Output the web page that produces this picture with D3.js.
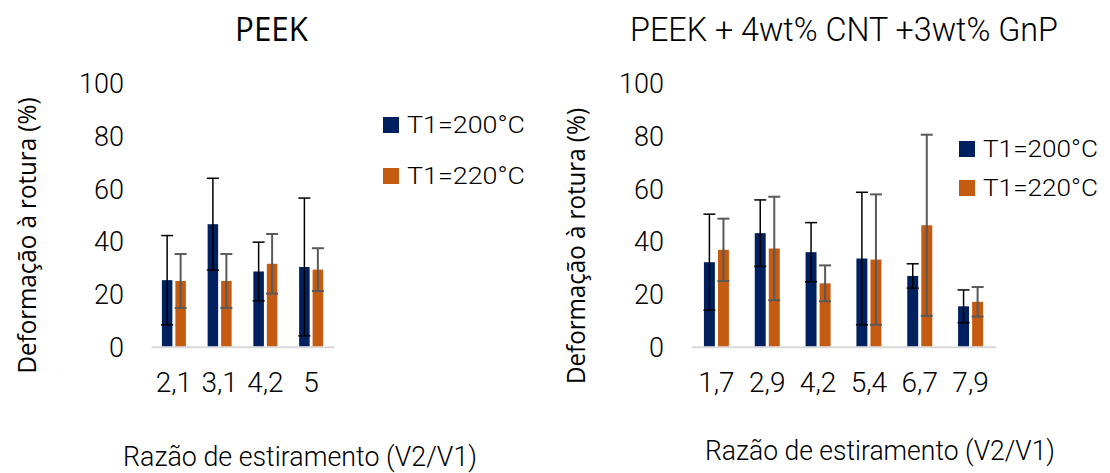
<!DOCTYPE html>
<html>
<head>
<meta charset="utf-8">
<script src="https://cdn.jsdelivr.net/npm/d3@7"></script>
<style>
  body { margin: 0; background: #fff; }
  svg { display: block; }
  .cond { font-family: Roboto, "Liberation Sans Narrow", sans-serif; font-weight: 300; fill: #000; }
  .wide { font-family: "Open Sans", "Noto Sans", sans-serif; fill: #000; }
</style>
</head>
<body>
<svg id="chart" width="1110" height="473"></svg>
<script>
// PEEK
var catsA = ['2,1', '3,1', '4,2', '5'];
var t200A = [25.2, 46.4, 28.5, 30.2];
var err200A = [16.9, 17.4, 11.1, 26.1];
var t220A = [24.9, 24.9, 31.4, 29.2];
var err220A = [10.2, 10.2, 11.3, 8.1];

// PEEK + 4wt% CNT +3wt% GnP
var catsB = ['1,7', '2,9', '4,2', '5,4', '6,7', '7,9'];
var t200B = [32.0, 43.0, 35.8, 33.4, 26.8, 15.3];
var err200B = [18.2, 12.6, 11.2, 25.1, 4.6, 6.2];
var t220B = [36.7, 37.2, 24.0, 33.0, 46.0, 17.0];
var err220B = [11.8, 19.6, 6.8, 24.7, 34.3, 5.6];

var seriesNames = ['T1=200°C', 'T1=220°C'];
var colors = ['#002060', '#c55a11'];
var errColors = ['#000000', '#595959'];
var yTicks = [0, 20, 40, 60, 80, 100];

var svg = d3.select('#chart');
var y = d3.scaleLinear().domain([0, 100]).range([346.7, 82.7]);

function drawChart(opt) {
  var g = svg.append('g');
  var x = d3.scaleBand().domain(opt.cats).range(opt.xRange).paddingInner(0).paddingOuter(0);
  var inner = d3.scaleBand().domain([0, 1]).range([-opt.half, opt.half]).paddingInner(0.22);

  // y tick labels
  var ya = g.append('g')
    .attr('transform', 'translate(' + opt.xRange[0] + ',0)')
    .call(d3.axisLeft(y).tickValues(yTicks).tickSize(0).tickPadding(27));
  ya.select('.domain').remove();
  ya.selectAll('text')
    .attr('class', 'cond')
    .style('font-size', '27px')
    .attr('dy', '0.36em')
    .attr('fill', '#000');

  var rows = opt.cats.map(function (c, i) {
    return [
      {cat: c, s: 0, v: opt.v0[i], e: opt.e0[i]},
      {cat: c, s: 1, v: opt.v1[i], e: opt.e1[i]}
    ];
  });
  var flat = d3.merge(rows);

  g.selectAll('rect.bar')
    .data(flat)
    .enter()
    .append('rect')
    .attr('class', 'bar')
    .attr('x', function (d) { return x(d.cat) + x.bandwidth() / 2 + inner(d.s); })
    .attr('width', inner.bandwidth())
    .attr('y', function (d) { return y(d.v); })
    .attr('height', function (d) { return y(0) - y(d.v); })
    .attr('fill', function (d) { return colors[d.s]; });

  // x axis
  var xa = g.append('g')
    .attr('transform', 'translate(0,' + y(0) + ')')
    .call(d3.axisBottom(x).tickSize(0).tickSizeOuter(0));
  xa.select('.domain').attr('stroke', '#d9d9d9').attr('stroke-width', 2);
  xa.selectAll('text')
    .attr('class', 'cond')
    .style('font-size', '28px')
    .attr('y', 45)
    .attr('dy', null)
    .attr('fill', '#000');

  // error bars
  var eb = g.selectAll('g.err')
    .data(flat)
    .enter()
    .append('g')
    .attr('class', 'err')
    .attr('stroke', function (d) { return errColors[d.s]; })
    .attr('stroke-width', function (d) { return d.s ? 2 : 1.5; });
  function cx(d) { return x(d.cat) + x.bandwidth() / 2 + inner(d.s) + inner.bandwidth() / 2; }
  eb.append('line')
    .attr('x1', cx).attr('x2', cx)
    .attr('y1', function (d) { return y(d.v + d.e); })
    .attr('y2', function (d) { return y(d.v - d.e); });
  [1, -1].forEach(function (sgn) {
    eb.append('line')
      .attr('x1', function (d) { return cx(d) - 6; })
      .attr('x2', function (d) { return cx(d) + 6; })
      .attr('y1', function (d) { return y(d.v + sgn * d.e); })
      .attr('y2', function (d) { return y(d.v + sgn * d.e); });
  });

  // titles
  g.append('text')
    .attr('class', opt.titleClass)
    .attr('x', opt.title.x).attr('y', 41)
    .attr('text-anchor', 'middle')
    .attr('textLength', opt.title.w)
    .attr('lengthAdjust', 'spacingAndGlyphs')
    .style('font-size', '33px')
    .text(opt.title.text);

  g.append('text')
    .attr('class', 'cond')
    .attr('x', opt.xTitle.x).attr('y', opt.xTitle.y)
    .attr('text-anchor', 'middle')
    .attr('textLength', opt.xTitle.w)
    .attr('lengthAdjust', 'spacingAndGlyphs')
    .style('font-size', '28px')
    .text('Razão de estiramento (V2/V1)');

  g.append('text')
    .attr('class', 'wide')
    .attr('transform', 'translate(' + opt.yTitle.x + ',' + opt.yTitle.y + ') rotate(-90)')
    .attr('text-anchor', 'middle')
    .attr('textLength', 276)
    .attr('lengthAdjust', 'spacingAndGlyphs')
    .style('font-size', '25px')
    .text('Deformação à rotura (%)');

  // legend
  var lg = g.selectAll('g.leg')
    .data(seriesNames)
    .enter()
    .append('g')
    .attr('class', 'leg')
    .attr('transform', function (d, i) {
      return 'translate(' + opt.legend.x + ',' + (opt.legend.y + i * opt.legend.step) + ')';
    });
  lg.append('rect')
    .attr('width', 16).attr('height', 16)
    .attr('fill', function (d, i) { return colors[i]; });
  lg.append('text')
    .attr('class', 'cond')
    .attr('x', 24).attr('y', 16)
    .attr('textLength', opt.legend.w)
    .attr('lengthAdjust', 'spacingAndGlyphs')
    .style('font-size', '23px')
    .text(function (d) { return d; });
}

drawChart({
  cats: catsA, v0: t200A, e0: err200A, v1: t220A, e1: err220A,
  xRange: [151, 334], half: 12,
  title: {text: 'PEEK', x: 271.5, w: 73},
  titleClass: 'wide',
  xTitle: {x: 300, y: 466, w: 354},
  yTitle: {x: 36, y: 235.5},
  legend: {x: 383, y: 117, step: 51, w: 118}
});

drawChart({
  cats: catsB, v0: t200B, e0: err200B, v1: t220B, e1: err220B,
  xRange: [691, 996], half: 12.5,
  title: {text: 'PEEK + 4wt% CNT +3wt% GnP', x: 844, w: 428},
  titleClass: 'cond',
  xTitle: {x: 880, y: 460, w: 350},
  yTitle: {x: 585, y: 246},
  legend: {x: 959, y: 141, step: 39, w: 115}
});
</script>
</body>
</html>
